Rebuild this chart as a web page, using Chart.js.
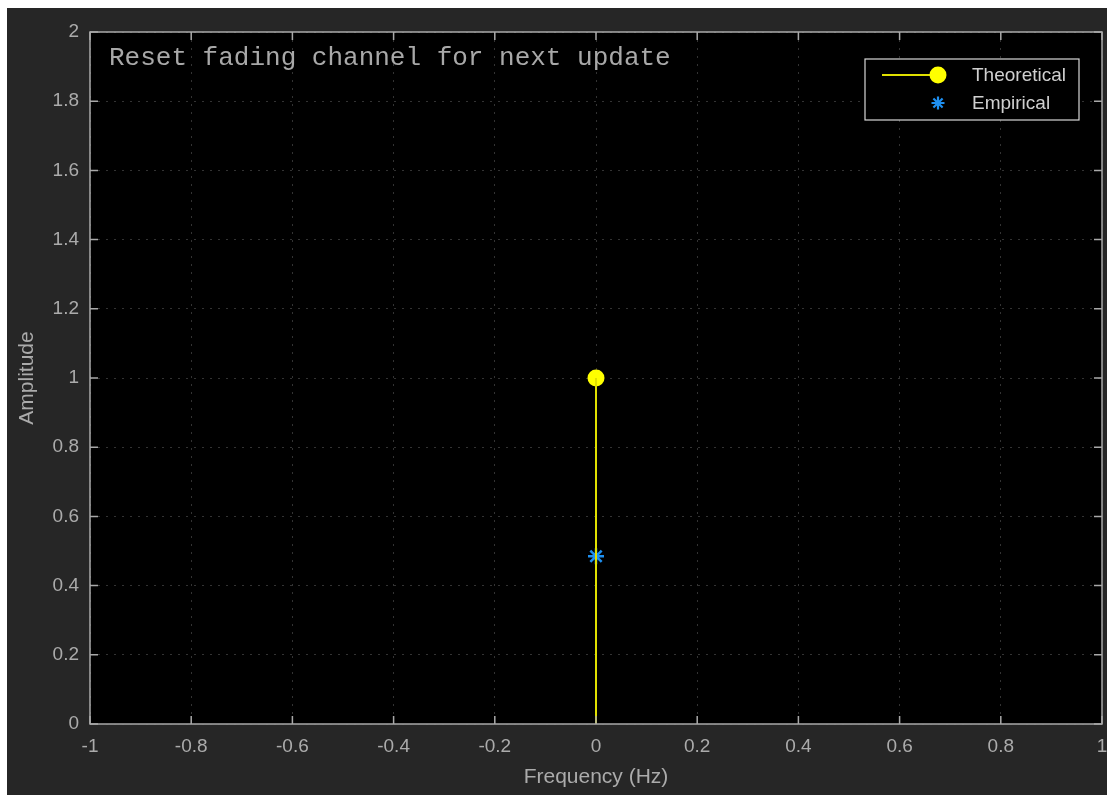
<!DOCTYPE html>
<html>
<head>
<meta charset="utf-8">
<script src="https://cdn.jsdelivr.net/npm/chart.js@4/dist/chart.umd.min.js"></script>
<style>
  html, body { margin: 0; padding: 0; background: #ffffff; }
  #fig { position: absolute; left: 7px; top: 8px; width: 1100px; height: 787px; background: #262626; }
  canvas { display: block; }
</style>
</head>
<body>
<div id="fig"><canvas id="chart" width="1100" height="787"></canvas></div>
<script>
// --- data ---
const freqs = [0];
const theoretical = [1];
const empirical = [0.485];
const xTicks = [-1, -0.8, -0.6, -0.4, -0.2, 0, 0.2, 0.4, 0.6, 0.8, 1];
const yTicks = [0, 0.2, 0.4, 0.6, 0.8, 1, 1.2, 1.4, 1.6, 1.8, 2];
const seriesLabels = ['Theoretical', 'Empirical'];
const noteText = 'Reset fading channel for next update';

const axisGray = '#a9a9a9';
const textGray = '#ababab';
const yellow = '#ffff00';
const blue = '#1e8ff0';

// stems: one segment from 0 up to each value, split by nulls
const stemPoints = [];
freqs.forEach((f, i) => {
    stemPoints.push({ x: f, y: 0 }, { x: f, y: theoretical[i] }, { x: f, y: null });
});

const fmt = v => String(Math.round(v * 10) / 10);

// box, inward ticks, note text and legend
const matlabAxes = {
    id: 'matlabAxes',
    afterDraw(chart) {
        const { ctx, chartArea: a, scales } = chart;
        const len = 8;
        ctx.save();
        ctx.strokeStyle = axisGray;
        ctx.lineWidth = 1.5;
        ctx.beginPath();
        xTicks.forEach(t => {
            const px = scales.x.getPixelForValue(t);
            ctx.moveTo(px, a.bottom); ctx.lineTo(px, a.bottom - len);
            ctx.moveTo(px, a.top); ctx.lineTo(px, a.top + len);
        });
        yTicks.forEach(t => {
            const py = scales.y.getPixelForValue(t);
            ctx.moveTo(a.left, py); ctx.lineTo(a.left + len, py);
            ctx.moveTo(a.right, py); ctx.lineTo(a.right - len, py);
        });
        ctx.stroke();
        ctx.strokeRect(a.left, a.top, a.right - a.left, a.bottom - a.top);

        // note text
        ctx.fillStyle = '#a8a8a8';
        ctx.font = '26px "Liberation Mono", "DejaVu Sans Mono", monospace';
        ctx.textBaseline = 'alphabetic';
        ctx.textAlign = 'left';
        ctx.fillText(noteText, a.left + 19, a.top + 33);

        // legend
        const lx = 858, ly = 51, lw = 214, lh = 61;
        ctx.fillStyle = '#000000';
        ctx.fillRect(lx, ly, lw, lh);
        ctx.strokeStyle = '#d8d8d8';
        ctx.lineWidth = 1.2;
        ctx.strokeRect(lx, ly, lw, lh);
        const r1 = ly + 16, r2 = ly + 44;
        ctx.strokeStyle = '#e0e000';
        ctx.lineWidth = 2;
        ctx.beginPath();
        ctx.moveTo(lx + 17, r1); ctx.lineTo(lx + 73, r1);
        ctx.stroke();
        ctx.fillStyle = yellow;
        ctx.beginPath();
        ctx.arc(lx + 73, r1, 8.5, 0, Math.PI * 2);
        ctx.fill();
        // asterisk
        ctx.strokeStyle = blue;
        ctx.lineWidth = 2.2;
        ctx.beginPath();
        for (let k = 0; k < 4; k++) {
            const ang = k * Math.PI / 4;
            ctx.moveTo(lx + 73 - 6.5 * Math.cos(ang), r2 - 6.5 * Math.sin(ang));
            ctx.lineTo(lx + 73 + 6.5 * Math.cos(ang), r2 + 6.5 * Math.sin(ang));
        }
        ctx.stroke();
        ctx.fillStyle = '#d0d0d0';
        ctx.font = '19px "Liberation Sans", Arial, sans-serif';
        ctx.textBaseline = 'middle';
        ctx.fillText(seriesLabels[0], lx + 107, r1 + 1);
        ctx.fillText(seriesLabels[1], lx + 107, r2 + 1);
        ctx.restore();
    }
};

const plotBg = {
    id: 'plotBg',
    beforeDraw(chart) {
        const { ctx, chartArea: a } = chart;
        ctx.save();
        ctx.fillStyle = '#000000';
        ctx.fillRect(a.left, a.top, a.right - a.left, a.bottom - a.top);
        ctx.restore();
    }
};

const ctx = document.getElementById('chart').getContext('2d');
new Chart(ctx, {
    type: 'scatter',
    data: {
        datasets: [
            {
                label: seriesLabels[0] + ' stem',
                type: 'line',
                data: stemPoints,
                borderColor: '#e0e000',
                borderWidth: 2,
                pointRadius: 0,
                spanGaps: false,
                showLine: true,
                clip: false
            },
            {
                label: seriesLabels[1],
                data: freqs.map((f, i) => ({ x: f, y: empirical[i] })),
                pointStyle: 'star',
                pointRadius: 8,
                borderWidth: 2.5,
                borderColor: blue,
                backgroundColor: blue
            },
            {
                label: seriesLabels[0],
                data: freqs.map((f, i) => ({ x: f, y: theoretical[i] })),
                pointStyle: 'circle',
                pointRadius: 8.5,
                borderWidth: 0,
                backgroundColor: yellow,
                borderColor: yellow
            }
        ]
    },
    options: {
        responsive: false,
        animation: false,
        layout: { autoPadding: false, padding: { top: 24, right: 5, left: 0, bottom: 0 } },
        plugins: {
            legend: { display: false },
            tooltip: { enabled: false }
        },
        scales: {
            x: {
                type: 'linear',
                min: -1,
                max: 1,
                afterBuildTicks: s => { s.ticks = xTicks.map(v => ({ value: v })); },
                afterFit: s => { s.height = 71; s.paddingLeft = 0; s.paddingRight = 0; },
                ticks: {
                    color: textGray,
                    font: { family: '"Liberation Sans", Arial, sans-serif', size: 19 },
                    padding: 11,
                    maxRotation: 0,
                    autoSkip: false,
                    callback: fmt
                },
                grid: { color: '#333333', drawTicks: false, lineWidth: 1 },
                border: { display: false, dash: [2, 6] },
                title: {
                    display: true,
                    text: 'Frequency (Hz)',
                    color: textGray,
                    font: { family: '"Liberation Sans", Arial, sans-serif', size: 21 },
                    padding: { top: 0, bottom: 5 }
                }
            },
            y: {
                type: 'linear',
                min: 0,
                max: 2,
                afterBuildTicks: s => { s.ticks = yTicks.map(v => ({ value: v })); },
                afterFit: s => { s.width = 83; s.paddingTop = 0; s.paddingBottom = 0; },
                ticks: {
                    color: textGray,
                    font: { family: '"Liberation Sans", Arial, sans-serif', size: 19 },
                    padding: 11,
                    autoSkip: false,
                    callback: fmt
                },
                grid: { color: '#333333', drawTicks: false, lineWidth: 1 },
                border: { display: false, dash: [2, 6] },
                title: {
                    display: true,
                    text: 'Amplitude',
                    color: textGray,
                    font: { family: '"Liberation Sans", Arial, sans-serif', size: 21 },
                    padding: { top: 8, bottom: 0 }
                }
            }
        }
    },
    plugins: [plotBg, matlabAxes]
});
</script>
</body>
</html>
